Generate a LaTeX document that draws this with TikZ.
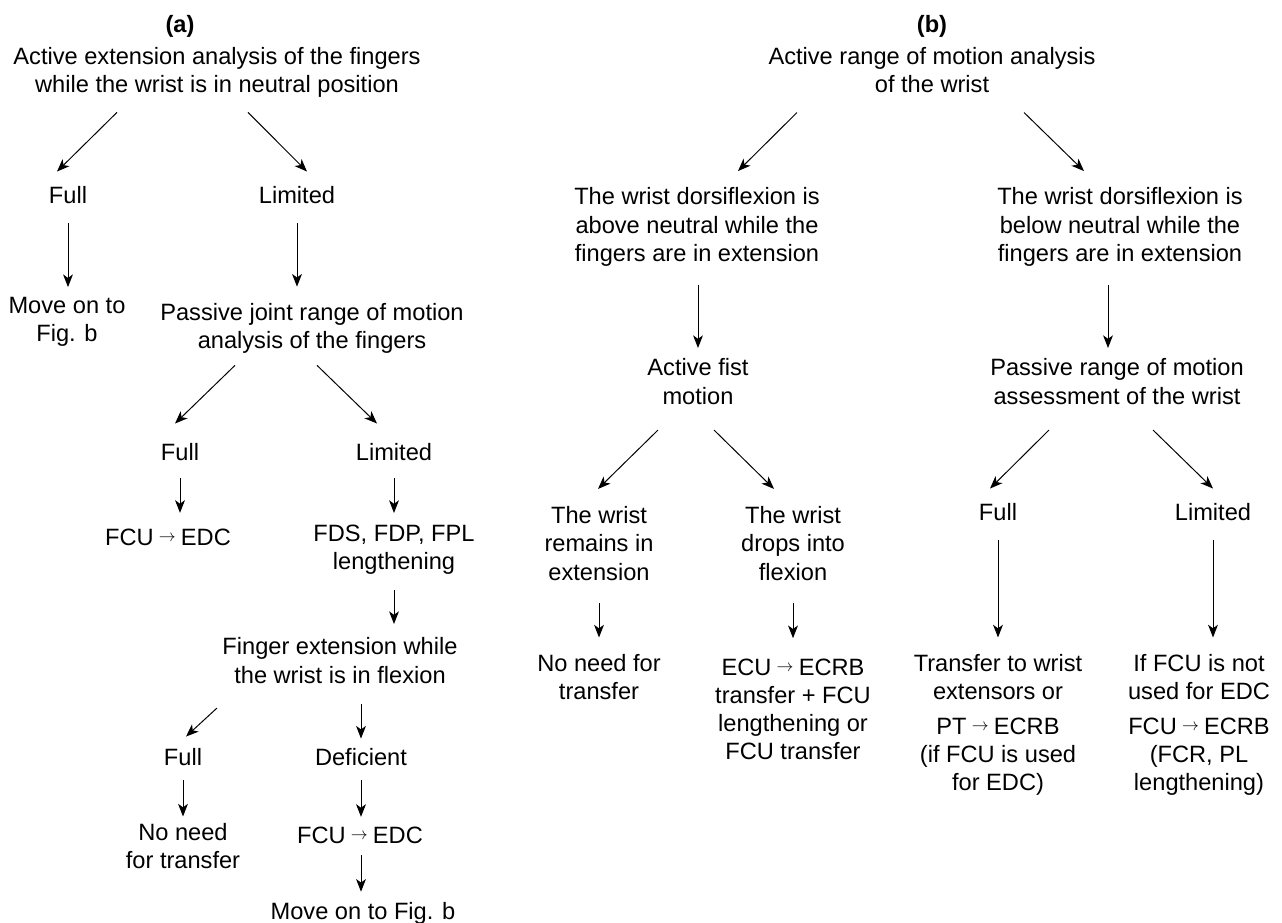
\documentclass[tikz,border=0pt]{standalone}
\usepackage{fontspec}
\setmainfont{Liberation Sans}
\usepackage{tikz}
\usetikzlibrary{arrows.meta,calc}
\newcommand{\toarr}{\hspace{0.22em}\raisebox{0.17em}{$\scriptstyle\rightarrow$}\hspace{0.22em}}

\begin{document}
\begin{tikzpicture}[
  x=0.025cm, y=-0.025cm,
  txt/.style={align=center, inner sep=0pt, font=\fontsize{16.8}{20}\selectfont},
  ttl/.style={txt, font=\fontsize{16.8}{20}\selectfont\bfseries},
  arr/.style={-{Stealth[length=9pt,width=7pt,inset=2.5pt]}, line width=0.7pt}
]
\useasboundingbox (0,0) rectangle (1282,922);

% (a)
\node[ttl] (ta) at (180,26) {(a)};
\node[txt] (a1) at (217,72.5) {Active extension analysis of the fingers\\while the wrist is in neutral position};
\node[txt] (a2) at (68,195) {Full};
\node[txt] (a3) at (297,195) {Limited};
\node[txt] (a4) at (67,321.5) {Move on to\\Fig. b};
\node[txt] (a5) at (312,328.5) {Passive joint range of motion\\analysis of the fingers};
\node[txt] (a6) at (180,452) {Full};
\node[txt] (a7) at (394,452) {Limited};
\node[txt] (a8) at (168,537) {FCU\toarr EDC};
\node[txt] (a9) at (394,549.5) {FDS, FDP, FPL\\lengthening};
\node[txt] (a10) at (340,660.5) {Finger extension while\\the wrist is in flexion};
\node[txt] (a11) at (183,757) {Full};
\node[txt] (a12) at (361,757) {Deficient};
\node[txt] (a13) at (183,846) {No need\\for transfer};
\node[txt] (a14) at (360,835) {FCU\toarr EDC};
\node[txt] (a15) at (363,913.5) {Move on to Fig. b};

\draw[arr] ($(a1.south)+(-100,14.5)$) -- ($(a2.north)+(-11,-14.5)$);
\draw[arr] ($(a1.south)+(31,14.5)$) -- ($(a3.north)+(10,-14.5)$);
\draw[arr] ($(a2.south)+(0,19.5)$) -- ($(a4.north -| a2)+(0,-9.5)$);
\draw[arr] ($(a3.south)+(0,19.5)$) -- ($(a5.north -| a3)+(0,-16.5)$);
\draw[arr] ($(a5.south)+(-77,11.5)$) -- ($(a6.north)+(-5,-19.5)$);
\draw[arr] ($(a5.south)+(5,11.5)$) -- ($(a7.north)+(-17,-19.5)$);
\draw[arr] ($(a6.south)+(0,17.5)$) -- ($(a8.north -| a6)+(0,-15.5)$);
\draw[arr] ($(a7.south)+(0,17.5)$) -- ($(a9.north)+(0,-11.5)$);
\draw[arr] ($(a9.south)+(0,15.5)$) -- ($(a10.north -| a9)+(0,-13.5)$);
\draw[arr] ($(a10.south)+(-123,24.5)$) -- ($(a11.north)+(3,-11.5)$);
\draw[arr] ($(a10.south -| a12)+(0,20.5)$) -- ($(a12.north)+(0,-9.5)$);
\draw[arr] ($(a11.south)+(0,14.5)$) -- ($(a13.north)+(0,-6.5)$);
\draw[arr] ($(a12.south)+(0,14.5)$) -- ($(a14.north -| a12)+(0,-9.5)$);
\draw[arr] ($(a14.south -| a12)+(0,11.5)$) -- ($(a15.north -| a12)+(0,-10.5)$);

% (b)
\node[ttl] (tb) at (932,26) {(b)};
\node[txt] (b1) at (932,70) {Active range of motion analysis\\of the wrist};
\node[txt] (b2) at (697,227) {The wrist dorsiflexion is\\above neutral while the\\fingers are in extension};
\node[txt] (b3) at (1120,227) {The wrist dorsiflexion is\\below neutral while the\\fingers are in extension};
\node[txt] (b4) at (698,381.5) {Active fist\\motion};
\node[txt] (b5) at (1117,381.5) {Passive range of motion\\assessment of the wrist};
\node[txt] (b6) at (599,543.5) {The wrist\\remains in\\extension};
\node[txt] (b7) at (793,543.5) {The wrist\\drops into\\flexion};
\node[txt] (b8) at (998,512) {Full};
\node[txt] (b9) at (1213,512) {Limited};
\node[txt] (b10) at (599,677) {No need for\\transfer};
\node[txt] (b11) at (793,709.5) {ECU\toarr ECRB\\transfer + FCU\\lengthening or\\FCU transfer};
\node[txt] (b12) at (998,725) {Transfer to wrist\\extensors or\\[5pt]PT\toarr ECRB\\(if FCU is used\\for EDC)};
\node[txt] (b13) at (1199,725) {If FCU is not\\used for EDC\\[5pt]FCU\toarr ECRB\\(FCR, PL\\lengthening)};

\draw[arr] ($(b1.south)+(-135,19.5)$) -- ($(b2.north)+(41,-16.5)$);
\draw[arr] ($(b1.south)+(92,19.5)$) -- ($(b3.north)+(-36,-16.5)$);
\draw[arr] ($(b2.south)+(1,18.5)$) -- ($(b4.north)+(0,-10.5)$);
\draw[arr] ($(b3.south)+(-12,18.5)$) -- ($(b5.north)+(-9,-10.5)$);
\draw[arr] ($(b4.south)+(-40,25.5)$) -- ($(b6.north)+(-1,-17.5)$);
\draw[arr] ($(b4.south)+(16,25.5)$) -- ($(b7.north)+(-19,-17.5)$);
\draw[arr] ($(b5.south)+(-68,25.5)$) -- ($(b8.north)+(-8,-14.5)$);
\draw[arr] ($(b5.south)+(36,25.5)$) -- ($(b9.north)+(0,-14.5)$);
\draw[arr] ($(b6.south)+(0,22.5)$) -- ($(b10.north)+(0,-16.5)$);
\draw[arr] ($(b7.south)+(0,22.5)$) -- ($(b11.north)+(0,-20.5)$);
\draw[arr] ($(b8.south)+(0,19.5)$) -- ($(b12.north)+(0,-16.5)$);
\draw[arr] ($(b9.south)+(0,19.5)$) -- ($(b13.north -| b9)+(0,-16.5)$);
\end{tikzpicture}
\end{document}
